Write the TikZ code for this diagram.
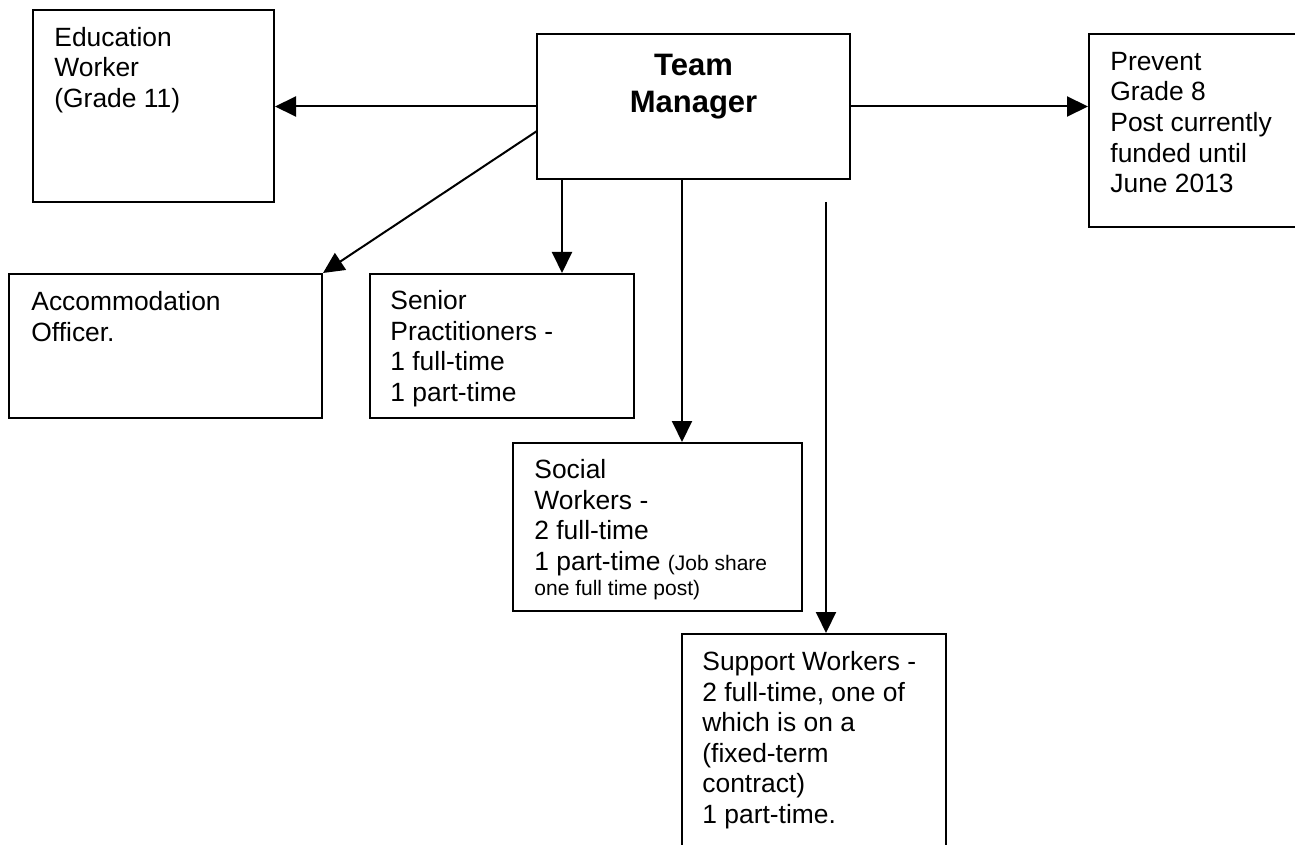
\documentclass[tikz,border=0pt]{standalone}
\usepackage{fontspec}
\setmainfont{Liberation Sans}
\usetikzlibrary{fit,arrows.meta}
\newcommand\firststrut{\rule{0pt}{9.9pt}}
\newcommand\bigstrut{\rule{0pt}{11.6pt}}
\newcommand\smalltxt{\fontsize{10.5}{12.5}\selectfont}
\begin{document}
\begin{tikzpicture}[x=0.5pt,y=-0.5pt,
  box/.style={draw,line width=1pt,inner sep=0pt},
  txt/.style={anchor=north west,inner sep=0pt,align=left,font=\fontsize{13.2}{15.3}\selectfont},
  ttl/.style={anchor=north,inner sep=0pt,align=center,font=\fontsize{15.5}{18.5}\selectfont\bfseries},
  arr/.style={line width=1pt,-{Triangle[length=10.5pt,width=10pt]}}]
\useasboundingbox (0,0) rectangle (1295,845);
\fill[white] (0,0) rectangle (1295,845);
\clip (0,0) rectangle (1295,845);
% boxes
\node[box,fit={(33,10) (274,202)}] (edu) {};
\node[box,fit={(537,34) (850,179)}] (tm) {};
\node[box,fit={(1089,34) (1320,227)}] (prev) {};
\node[box,fit={(9,274) (322,418)}] (acc) {};
\node[box,fit={(370,274) (634,418)}] (sen) {};
\node[box,fit={(513,443) (802,611)}] (soc) {};
\node[box,fit={(682,634) (946,870)}] (sup) {};
% texts
\node[ttl] (tmt) at (693.5,52) {\bigstrut Team\\Manager};
\node[txt] (edut) at (54,26.2) {\firststrut Education\\Worker\\(Grade 11)};
\node[txt] (prevt) at (1110,50.2) {\firststrut Prevent\\Grade 8\\Post currently\\funded until\\June 2013};
\node[txt] (acct) at (31,290.2) {\firststrut Accommodation\\Officer.};
\node[txt] (sent) at (390,289.2) {\firststrut Senior\\Practitioners -\\1 full-time\\1 part-time};
\node[txt] (soct) at (534,458.2) {\firststrut Social\\Workers -\\2 full-time\\1 part-time {\smalltxt (Job share}\\[-2.8pt]{\smalltxt one full time post)}};
\node[txt] (supt) at (702,650.2) {\firststrut Support Workers -\\2 full-time, one of\\which is on a\\(fixed-term\\contract)\\1 part-time.};
% connectors
\draw[arr] (tm.west) -- (tm.west -| edu.east);
\draw[arr] (tm.east) -- (tm.east -| prev.west);
\coordinate (dstart) at (537,131);
\draw[arr] (dstart) -- (acc.north east);
\coordinate (s1) at (562,179);
\draw[arr] (s1) -- (s1 |- sen.north);
\coordinate (s2) at (682,179);
\draw[arr] (s2) -- (s2 |- soc.north);
\coordinate (s3) at (826,202);
\draw[arr] (s3) -- (s3 |- sup.north);
\end{tikzpicture}
\end{document}
